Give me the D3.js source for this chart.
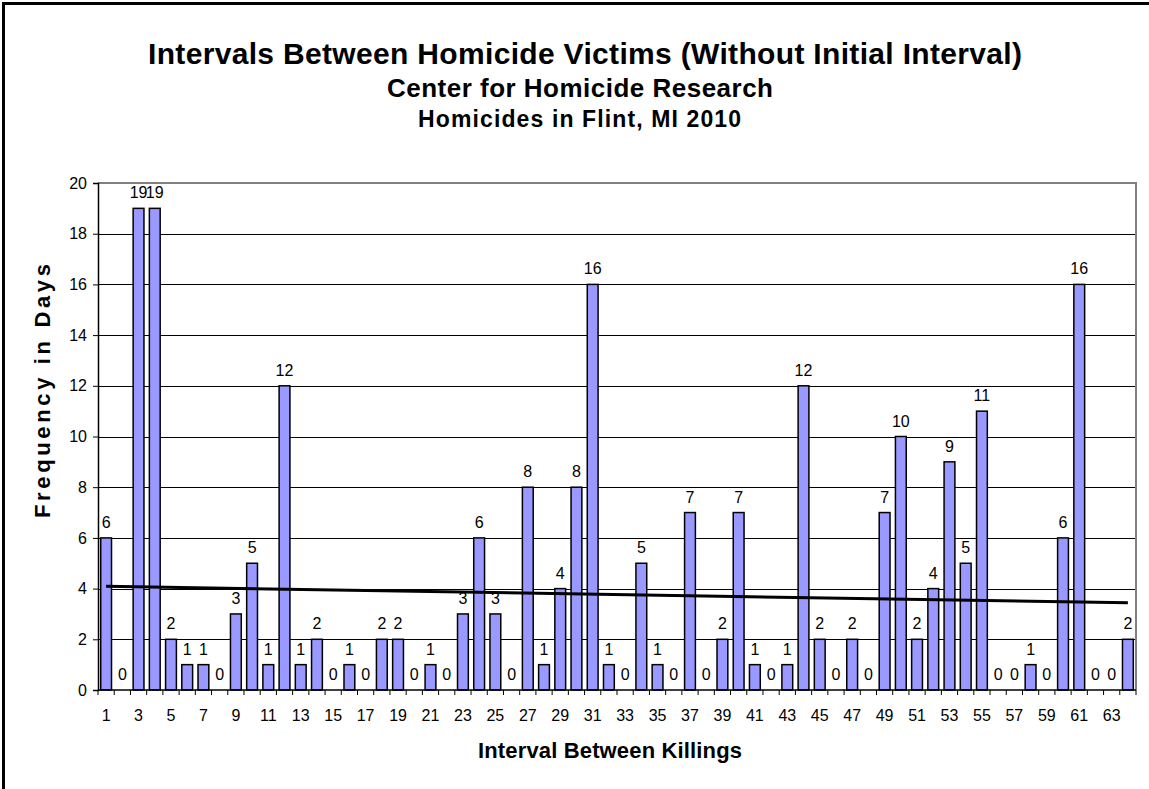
<!DOCTYPE html>
<html><head><meta charset="utf-8">
<script src="https://cdn.jsdelivr.net/npm/d3@7"></script>
<style>
body{margin:0;background:#fff}
svg{display:block}
text{font-family:"Liberation Sans",Arial,Helvetica,sans-serif;fill:#000}
</style>
</head><body>
<svg id="chart" width="1149" height="789"></svg>
<script>
const categories = [1,2,3,4,5,6,7,8,9,10,11,12,13,14,15,16,17,18,19,20,21,22,23,24,25,26,27,28,29,30,31,32,33,34,35,36,37,38,39,40,41,42,43,44,45,46,47,48,49,50,51,52,53,54,55,56,57,58,59,60,61,62,63,64];
const values = [6,0,19,19,2,1,1,0,3,5, 1,12,1,2,0,1,0,2,2,0, 1,0,3,6,3,0,8,1,4,8, 16,1,0,5,1,0,7,0,2,7, 1,0,1,12,2,0,2,0,7,10, 2,4,9,5,11,0,0,1,0,6, 16,0,0,2];
const xTickLabels = [1,3,5,7,9,11,13,15,17,19,21,23,25,27,29,31,33,35,37,39,41,43,45,47,49,51,53,55,57,59,61,63];
const yTicks = [0,2,4,6,8,10,12,14,16,18,20];
const titleText = "Intervals Between Homicide Victims (Without Initial Interval)";
const subtitle1 = "Center for Homicide Research";
const subtitle2 = "Homicides in Flint, MI 2010";
const xTitle = "Interval Between Killings";
const yTitle = "Frequency in Days";

const svg = d3.select("#chart");
const m = {left: 98, right: 1136, top: 183, bottom: 690};

// outer chart border (extends beyond image at right/bottom)
svg.append("rect").attr("x", 3.5).attr("y", 3.5).attr("width", 1300).attr("height", 900)
  .attr("fill", "none").attr("stroke", "#000").attr("stroke-width", 3);

const x = d3.scaleBand().domain(categories).range([m.left, m.right]).paddingInner(1/3).paddingOuter(1/6);
const y = d3.scaleLinear().domain([0, 20]).range([m.bottom, m.top]);

// gridlines
svg.append("g").selectAll("line").data(yTicks.filter(d => d > 0 && d < 20)).join("line")
  .attr("x1", m.left).attr("x2", m.right)
  .attr("y1", d => Math.round(y(d)) + 0.5).attr("y2", d => Math.round(y(d)) + 0.5)
  .attr("stroke", "#000").attr("stroke-width", 1);

// plot area border (top/right)
svg.append("path")
  .attr("d", `M${m.left},${y(20)}H${m.right}V${m.bottom}`)
  .attr("fill", "none").attr("stroke", "#808080").attr("stroke-width", 2);

// bars
svg.append("g").selectAll("rect").data(values).join("rect")
  .attr("x", (d, i) => x(categories[i]))
  .attr("y", d => y(d))
  .attr("width", x.bandwidth())
  .attr("height", d => y(0) - y(d))
  .attr("fill", "#9999FF").attr("stroke", "#000").attr("stroke-width", 1.5);

// data labels
svg.append("g").selectAll("text").data(values).join("text")
  .attr("x", (d, i) => x(categories[i]) + x.bandwidth() / 2)
  .attr("y", d => y(d) - 10)
  .attr("text-anchor", "middle").attr("font-size", 16)
  .text(d => d);

// trendline (least squares over categories)
const n = values.length;
const mx = d3.mean(categories), my = d3.mean(values);
const slope = d3.sum(categories, (c, i) => (c - mx) * (values[i] - my)) / d3.sum(categories, c => (c - mx) ** 2);
const icpt = my - slope * mx;
const c0 = categories[0], c1 = categories[n - 1];
svg.append("line")
  .attr("x1", x(c0) + x.bandwidth() / 2).attr("y1", y(icpt + slope * c0))
  .attr("x2", x(c1) + x.bandwidth() / 2).attr("y2", y(icpt + slope * c1))
  .attr("stroke", "#000").attr("stroke-width", 3);

// y axis
const yAxis = d3.axisLeft(y).tickValues(yTicks).tickSize(5).tickPadding(6);
const gy = svg.append("g").attr("transform", `translate(${m.left},0)`).call(yAxis);
gy.select(".domain").attr("stroke", "#000").attr("stroke-width", 1.5);
gy.selectAll(".tick line").attr("stroke", "#000");
gy.selectAll(".tick text").attr("font-size", 16).attr("font-family", '"Liberation Sans",Arial,sans-serif').attr("fill", "#000");

// x axis: ticks at category boundaries, labels on odd categories
svg.append("line").attr("x1", m.left).attr("x2", m.right).attr("y1", m.bottom).attr("y2", m.bottom)
  .attr("stroke", "#000").attr("stroke-width", 1.5);
const boundaries = categories.map(c => x(c) - x.step() * x.paddingInner() / 2);
boundaries.push(m.right);
svg.append("g").selectAll("line").data(boundaries).join("line")
  .attr("x1", d => d).attr("x2", d => d).attr("y1", m.bottom).attr("y2", m.bottom + 5)
  .attr("stroke", "#000").attr("stroke-width", 1);
svg.append("g").selectAll("text").data(xTickLabels).join("text")
  .attr("x", d => x(d) + x.bandwidth() / 2).attr("y", 721)
  .attr("text-anchor", "middle").attr("font-size", 16).text(d => d);

// titles
svg.append("text").attr("x", 148).attr("y", 64).attr("font-size", 30).attr("font-weight", "bold")
  .attr("textLength", 874).attr("lengthAdjust", "spacing").text(titleText);
svg.append("text").attr("x", 387).attr("y", 97).attr("font-size", 26).attr("font-weight", "bold")
  .attr("textLength", 386).attr("lengthAdjust", "spacing").text(subtitle1);
svg.append("text").attr("x", 418).attr("y", 127).attr("font-size", 23).attr("font-weight", "bold")
  .attr("textLength", 323).attr("lengthAdjust", "spacing").text(subtitle2);

svg.append("text").attr("x", 478).attr("y", 758).attr("font-size", 22).attr("font-weight", "bold")
  .attr("textLength", 264).attr("lengthAdjust", "spacing").text(xTitle);

svg.append("text").attr("transform", "translate(50,518) rotate(-90)")
  .attr("font-size", 22).attr("font-weight", "bold")
  .attr("textLength", 254).attr("lengthAdjust", "spacing").text(yTitle);
</script>
</body></html>
